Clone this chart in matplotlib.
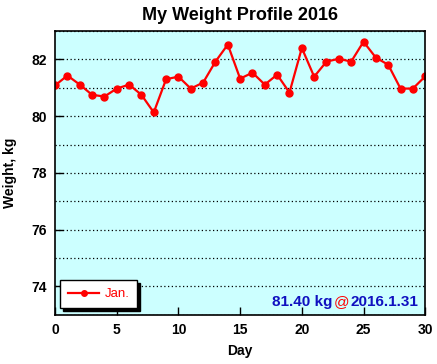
import matplotlib
matplotlib.use("Agg")
import matplotlib.pyplot as plt
from matplotlib.offsetbox import AnchoredOffsetbox, HPacker, TextArea
from matplotlib.ticker import MultipleLocator

plt.rcParams["font.family"] = ["Liberation Sans", "DejaVu Sans"]

# Daily weight, January 2016
days = list(range(0, 31))
weight = [81.08, 81.43, 81.11, 80.75, 80.69, 80.97, 81.11, 80.75, 80.13, 81.30,
          81.39, 80.97, 81.18, 81.92, 82.52, 81.32, 81.53, 81.11, 81.46, 80.83,
          82.40, 81.39, 81.92, 82.02, 81.92, 82.62, 82.06, 81.81, 80.97, 80.97,
          81.40]
series_label = "Jan."
last_value = "81.40 kg"
last_date = "2016.1.31"

fig = plt.figure(figsize=(4.37, 3.64), dpi=100)
ax = fig.add_axes([0.126, 0.135, 0.847, 0.780])
ax.set_facecolor("#ccffff")

ax.plot(days, weight, color="red", lw=1.6, marker="o", ms=5, label=series_label)

ax.set_xlim(0, 30)
ax.set_ylim(73, 83)
ax.xaxis.set_major_locator(MultipleLocator(5))
ax.yaxis.set_major_locator(MultipleLocator(2))
ax.yaxis.set_minor_locator(MultipleLocator(1))
ax.tick_params(direction="in", length=6, width=1, top=False, right=False,
               labelsize=10, pad=6)
ax.tick_params(which="minor", length=0)
for lab in ax.get_xticklabels() + ax.get_yticklabels():
    lab.set_fontweight("bold")
ax.grid(True, which="both", axis="y", color="black", ls=(0, (1, 2)), lw=0.9)
for s in ax.spines.values():
    s.set_linewidth(1.2)

ax.set_title("My Weight Profile 2016", fontsize=13, fontweight="bold", pad=8)
ax.set_xlabel("Day", fontsize=10, fontweight="bold", labelpad=5)
ax.set_ylabel("Weight, kg", fontsize=10, fontweight="bold", labelpad=10)

leg = ax.legend(loc="lower left", fancybox=False, fontsize=9.5,
                shadow={"facecolor": "black", "edgecolor": "black", "alpha": 1},
                framealpha=1, edgecolor="black", borderaxespad=0.5,
                borderpad=0.6, handlelength=2.4, handletextpad=0.4,
                markerscale=0.8, bbox_to_anchor=(-0.005, 0.0))
leg.get_frame().set_linewidth(1.0)
for t in leg.get_texts():
    t.set_color("red")

# latest value note, bottom right
tprops_b = dict(color="#1010c0", fontsize=11, fontweight="bold")
parts = [TextArea(last_value, textprops=tprops_b),
         TextArea("@", textprops=dict(color="red", fontsize=11)),
         TextArea(last_date, textprops=tprops_b)]
box = HPacker(children=parts, align="baseline", pad=0, sep=1)
anc = AnchoredOffsetbox(loc="lower right", child=box, pad=0.2, frameon=False,
                        bbox_to_anchor=(0.99, 0.01), bbox_transform=ax.transAxes,
                        borderpad=0)
ax.add_artist(anc)

fig.savefig("out.png", dpi=100)
